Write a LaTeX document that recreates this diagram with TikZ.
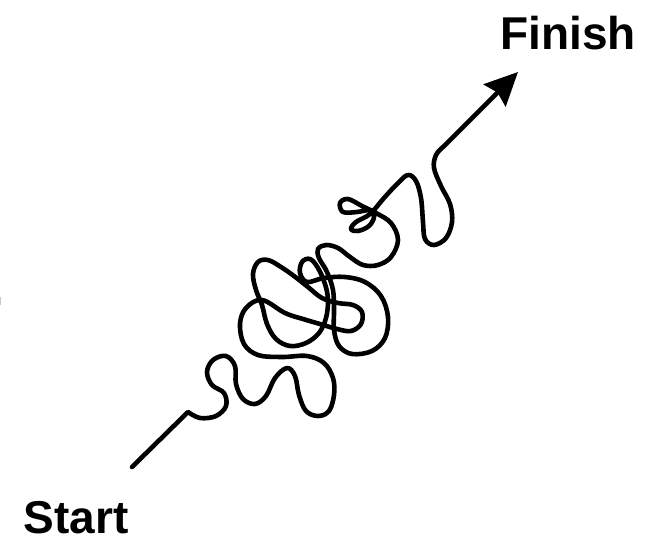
\documentclass[tikz,border=0pt]{standalone}
\usepackage{fontspec}
\setmainfont{Liberation Sans}
\usetikzlibrary{arrows.meta}
\tikzset{
  label/.style={font=\fontsize{46}{50}\selectfont\bfseries, inner sep=0pt},
  scribble/.style={line width=4.6pt, line cap=round, line join=round, black,
    -{Stealth[length=33pt,width=31pt,inset=4pt]}},
}
\begin{document}
\begin{tikzpicture}[x=1pt,y=-1pt]
\useasboundingbox (0,0) rectangle (651,543);
\node[label] (finish) at (568,33) {Finish};
\node[label] (start) at (76,518) {Start};
\coordinate (tail) at (132,467);
\coordinate (tip) at (518,72);
\draw[gray!45, line width=1.5pt] (0.7,297) -- (0.7,305);
\draw[scribble] (tail) -- plot[smooth, tension=0.6] coordinates {
  (188,412) (200,418) (216,416) (226,406) (224,393) (212,385) (207,372)
  (213,360) (226,356) (235,366) (236,384) (243,399) (255,404) (266,396)
  (275,378) (287,368) (295,376) (299,395) (306,411) (318,416) (329,411)
  (334,395) (333,378) (324,363) (307,356) (282,357) (258,355) (244,344)
  (240,324) (246,308) (262,300)
  (285,313) (303,319) (320,324) (337,329)
  (351,331) (361,324) (362,312) (353,305) (338,303)
  (322,298) (308,287) (294,276) (281,267) (268,260) (258,262) (253,274)
  (256,290) (262,305)
  (267,324) (276,339) (290,346) (306,343) (319,333) (326,318)
  (328,300) (325,284) (318,268) (310,259) (302,262) (300,273) (307,282)
  (324,278)
  (345,277) (365,282) (381,296) (388,317) (385,338) (372,351) (352,354)
  (339,346) (334,330) (334,310) (333,290) (327,272) (319,258) (318,249)
  (326,245) (338,248) (350,257) (363,265) (378,265) (391,257) (398,240)
  (391,223) (376,213)
  (362,206) (348,199) (340,203) (343,212) (357,212) (371,210)
  (374,217) (369,226) (358,231) (351,229) (356,222) (370,214)
  (384,198) (398,183) (408,175) (416,181) (421,198) (423,222) (425,239)
  (434,245) (446,238) (452,222) (450,204) (441,186) (434,168) (436,155)
  (443,147)} -- (tip);
\end{tikzpicture}
\end{document}
